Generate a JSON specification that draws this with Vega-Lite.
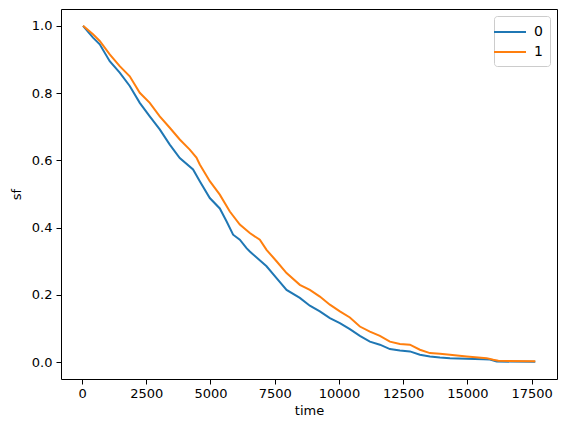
{
  "$schema": "https://vega.github.io/schema/vega-lite/v6.json",
  "width": 496,
  "height": 370,
  "autosize": "none",
  "padding": {"left": 61, "top": 9, "right": 10, "bottom": 53},
  "config": {
    "font": "DejaVu Sans",
    "view": {"stroke": "black", "strokeWidth": 1},
    "axis": {
      "grid": false,
      "domain": false,
      "tickColor": "black",
      "tickSize": 5,
      "labelFontSize": 13,
      "labelColor": "black",
      "titleFontSize": 13,
      "titleFontWeight": "normal",
      "titleColor": "black"
    }
  },
  "data": {
    "values": [
      {"time": 40, "sf": 1.0, "group": "0"},
      {"time": 428, "sf": 0.965, "group": "0"},
      {"time": 689, "sf": 0.945, "group": "0"},
      {"time": 1078, "sf": 0.895, "group": "0"},
      {"time": 1467, "sf": 0.861, "group": "0"},
      {"time": 1857, "sf": 0.821, "group": "0"},
      {"time": 2247, "sf": 0.771, "group": "0"},
      {"time": 2636, "sf": 0.731, "group": "0"},
      {"time": 3025, "sf": 0.692, "group": "0"},
      {"time": 3415, "sf": 0.647, "group": "0"},
      {"time": 3804, "sf": 0.607, "group": "0"},
      {"time": 4322, "sf": 0.573, "group": "0"},
      {"time": 4583, "sf": 0.538, "group": "0"},
      {"time": 4973, "sf": 0.488, "group": "0"},
      {"time": 5362, "sf": 0.457, "group": "0"},
      {"time": 5623, "sf": 0.419, "group": "0"},
      {"time": 5880, "sf": 0.379, "group": "0"},
      {"time": 6141, "sf": 0.364, "group": "0"},
      {"time": 6402, "sf": 0.339, "group": "0"},
      {"time": 6530, "sf": 0.329, "group": "0"},
      {"time": 7181, "sf": 0.285, "group": "0"},
      {"time": 7570, "sf": 0.25, "group": "0"},
      {"time": 7960, "sf": 0.215, "group": "0"},
      {"time": 8477, "sf": 0.191, "group": "0"},
      {"time": 8867, "sf": 0.168, "group": "0"},
      {"time": 9256, "sf": 0.151, "group": "0"},
      {"time": 9646, "sf": 0.131, "group": "0"},
      {"time": 10035, "sf": 0.116, "group": "0"},
      {"time": 10424, "sf": 0.098, "group": "0"},
      {"time": 10814, "sf": 0.078, "group": "0"},
      {"time": 11203, "sf": 0.061, "group": "0"},
      {"time": 11593, "sf": 0.052, "group": "0"},
      {"time": 11982, "sf": 0.039, "group": "0"},
      {"time": 12372, "sf": 0.035, "group": "0"},
      {"time": 12761, "sf": 0.032, "group": "0"},
      {"time": 13150, "sf": 0.022, "group": "0"},
      {"time": 13540, "sf": 0.017, "group": "0"},
      {"time": 13929, "sf": 0.014, "group": "0"},
      {"time": 14319, "sf": 0.012, "group": "0"},
      {"time": 15615, "sf": 0.009, "group": "0"},
      {"time": 15876, "sf": 0.008, "group": "0"},
      {"time": 16137, "sf": 0.002, "group": "0"},
      {"time": 17640, "sf": 0.001, "group": "0"},
      {"time": 40, "sf": 1.0, "group": "1"},
      {"time": 428, "sf": 0.975, "group": "1"},
      {"time": 689, "sf": 0.955, "group": "1"},
      {"time": 1078, "sf": 0.915, "group": "1"},
      {"time": 1467, "sf": 0.88, "group": "1"},
      {"time": 1857, "sf": 0.85, "group": "1"},
      {"time": 2247, "sf": 0.801, "group": "1"},
      {"time": 2636, "sf": 0.771, "group": "1"},
      {"time": 3025, "sf": 0.731, "group": "1"},
      {"time": 3415, "sf": 0.697, "group": "1"},
      {"time": 3804, "sf": 0.662, "group": "1"},
      {"time": 4193, "sf": 0.632, "group": "1"},
      {"time": 4453, "sf": 0.608, "group": "1"},
      {"time": 4583, "sf": 0.588, "group": "1"},
      {"time": 4973, "sf": 0.538, "group": "1"},
      {"time": 5362, "sf": 0.498, "group": "1"},
      {"time": 5752, "sf": 0.448, "group": "1"},
      {"time": 6141, "sf": 0.409, "group": "1"},
      {"time": 6530, "sf": 0.384, "group": "1"},
      {"time": 6920, "sf": 0.364, "group": "1"},
      {"time": 7181, "sf": 0.334, "group": "1"},
      {"time": 7570, "sf": 0.3, "group": "1"},
      {"time": 7960, "sf": 0.265, "group": "1"},
      {"time": 8477, "sf": 0.23, "group": "1"},
      {"time": 8867, "sf": 0.215, "group": "1"},
      {"time": 9256, "sf": 0.195, "group": "1"},
      {"time": 9646, "sf": 0.171, "group": "1"},
      {"time": 10035, "sf": 0.151, "group": "1"},
      {"time": 10424, "sf": 0.133, "group": "1"},
      {"time": 10814, "sf": 0.106, "group": "1"},
      {"time": 11203, "sf": 0.091, "group": "1"},
      {"time": 11593, "sf": 0.078, "group": "1"},
      {"time": 11982, "sf": 0.061, "group": "1"},
      {"time": 12372, "sf": 0.054, "group": "1"},
      {"time": 12761, "sf": 0.052, "group": "1"},
      {"time": 13150, "sf": 0.037, "group": "1"},
      {"time": 13540, "sf": 0.027, "group": "1"},
      {"time": 13929, "sf": 0.025, "group": "1"},
      {"time": 14319, "sf": 0.022, "group": "1"},
      {"time": 14969, "sf": 0.017, "group": "1"},
      {"time": 15748, "sf": 0.012, "group": "1"},
      {"time": 16005, "sf": 0.007, "group": "1"},
      {"time": 16200, "sf": 0.004, "group": "1"},
      {"time": 17640, "sf": 0.003, "group": "1"}
    ]
  },
  "mark": {"type": "line", "strokeWidth": 2, "clip": true},
  "encoding": {
    "x": {
      "field": "time",
      "type": "quantitative",
      "title": "time",
      "scale": {"domain": [-818, 18485], "nice": false, "zero": false},
      "axis": {
        "values": [0, 2500, 5000, 7500, 10000, 12500, 15000, 17500],
        "format": "d",
        "labelPadding": 3,
        "titlePadding": 4
      }
    },
    "y": {
      "field": "sf",
      "type": "quantitative",
      "title": "sf",
      "scale": {"domain": [-0.05, 1.05], "nice": false, "zero": false},
      "axis": {
        "values": [0, 0.2, 0.4, 0.6, 0.8, 1.0],
        "format": ".1f",
        "labelPadding": 4,
        "titlePadding": 8
      }
    },
    "color": {
      "field": "group",
      "type": "nominal",
      "scale": {"domain": ["0", "1"], "range": ["#1f77b4", "#ff7f0e"]},
      "legend": {
        "title": null,
        "orient": "none",
        "legendX": 433,
        "legendY": 7,
        "symbolType": "M-2,0H2",
        "symbolSize": 256,
        "symbolStrokeWidth": 2,
        "labelFontSize": 14,
        "labelColor": "black",
        "labelOffset": 15,
        "rowPadding": 4,
        "padding": 7,
        "strokeColor": "#cccccc",
        "fillColor": "white",
        "cornerRadius": 3
      }
    }
  }
}
